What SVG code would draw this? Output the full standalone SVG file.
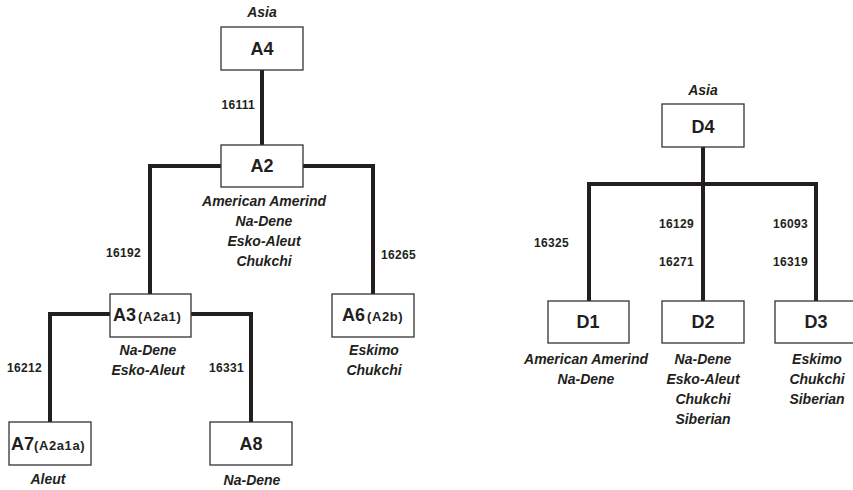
<svg xmlns="http://www.w3.org/2000/svg" width="853" height="490" viewBox="0 0 853 490">
<style>
.box{fill:#fff;stroke:#333;stroke-width:1.3}
.conn{fill:none;stroke:#231f20;stroke-width:4;stroke-linejoin:miter;stroke-linecap:butt}
.nm{font-family:"Liberation Sans",Arial,sans-serif;font-weight:bold;font-size:18px;fill:#231f20}
.sub{font-family:"Liberation Sans",Arial,sans-serif;font-weight:bold;font-size:13px;letter-spacing:0.6px;fill:#231f20}
.lab{font-family:"Liberation Sans",Arial,sans-serif;font-weight:bold;font-style:italic;font-size:14px;fill:#231f20;text-anchor:middle}
.num{font-family:"Liberation Sans",Arial,sans-serif;font-weight:bold;font-size:12px;letter-spacing:0.3px;fill:#231f20}
.c{text-anchor:middle}
</style>
<rect width="853" height="490" fill="#fff"/>
<g id="connectors">
<path class="conn" d="M262 70 V145"/>
<path class="conn" d="M221 166 H150 V294"/>
<path class="conn" d="M303 166 H373 V294"/>
<path class="conn" d="M110 314 H50 V422"/>
<path class="conn" d="M191 314 H251 V422"/>
<path class="conn" d="M703 147 V301"/>
<path class="conn" d="M589 301 V184 H816 V301"/>
<text class="num" x="255" y="109" text-anchor="end">16111</text>
<text class="num" x="106" y="257">16192</text>
<text class="num" x="381" y="259">16265</text>
<text class="num" x="7" y="372">16212</text>
<text class="num" x="209" y="372">16331</text>
<text class="num" x="534" y="247">16325</text>
<text class="num" x="659" y="228">16129</text>
<text class="num" x="659" y="266">16271</text>
<text class="num" x="773" y="228">16093</text>
<text class="num" x="773" y="266">16319</text>
</g>
<g id="A4">
<text class="lab" x="262" y="17">Asia</text>
<rect class="box" x="221" y="27" width="82" height="43"/>
<text class="nm c" x="262" y="55">A4</text>
</g>
<g id="A2">
<rect class="box" x="221" y="145" width="82" height="42"/>
<text class="nm c" x="262" y="172">A2</text>
<text class="lab" x="264" y="206">American Amerind</text>
<text class="lab" x="264" y="226">Na-Dene</text>
<text class="lab" x="264" y="246">Esko-Aleut</text>
<text class="lab" x="264" y="266">Chukchi</text>
</g>
<g id="A3">
<rect class="box" x="110" y="294" width="81" height="43"/>
<text x="113" y="321"><tspan class="nm">A3</tspan><tspan class="sub" dx="2">(A2a1)</tspan></text>
<text class="lab" x="148" y="355">Na-Dene</text>
<text class="lab" x="148" y="375">Esko-Aleut</text>
</g>
<g id="A6">
<rect class="box" x="332" y="294" width="82" height="43"/>
<text x="342" y="321"><tspan class="nm">A6</tspan><tspan class="sub" dx="2">(A2b)</tspan></text>
<text class="lab" x="374" y="355">Eskimo</text>
<text class="lab" x="374" y="375">Chukchi</text>
</g>
<g id="A7">
<rect class="box" x="9" y="422" width="82" height="43"/>
<text x="11" y="450"><tspan class="nm">A7</tspan><tspan class="sub">(A2a1a)</tspan></text>
<text class="lab" x="48" y="484">Aleut</text>
</g>
<g id="A8">
<rect class="box" x="210" y="422" width="82" height="43"/>
<text class="nm c" x="251" y="450">A8</text>
<text class="lab" x="252" y="485">Na-Dene</text>
</g>
<g id="D4">
<text class="lab" x="703" y="95">Asia</text>
<rect class="box" x="662" y="104" width="82" height="43"/>
<text class="nm c" x="703" y="133">D4</text>
</g>
<g id="D1">
<rect class="box" x="548" y="301" width="81" height="42"/>
<text class="nm c" x="588" y="328">D1</text>
<text class="lab" x="586" y="364">American Amerind</text>
<text class="lab" x="586" y="384">Na-Dene</text>
</g>
<g id="D2">
<rect class="box" x="662" y="301" width="82" height="42"/>
<text class="nm c" x="703" y="328">D2</text>
<text class="lab" x="703" y="364">Na-Dene</text>
<text class="lab" x="703" y="384">Esko-Aleut</text>
<text class="lab" x="703" y="404">Chukchi</text>
<text class="lab" x="703" y="424">Siberian</text>
</g>
<g id="D3">
<rect class="box" x="775" y="301" width="82" height="42"/>
<text class="nm c" x="816" y="328">D3</text>
<text class="lab" x="817" y="364">Eskimo</text>
<text class="lab" x="817" y="384">Chukchi</text>
<text class="lab" x="817" y="404">Siberian</text>
</g>
</svg>
